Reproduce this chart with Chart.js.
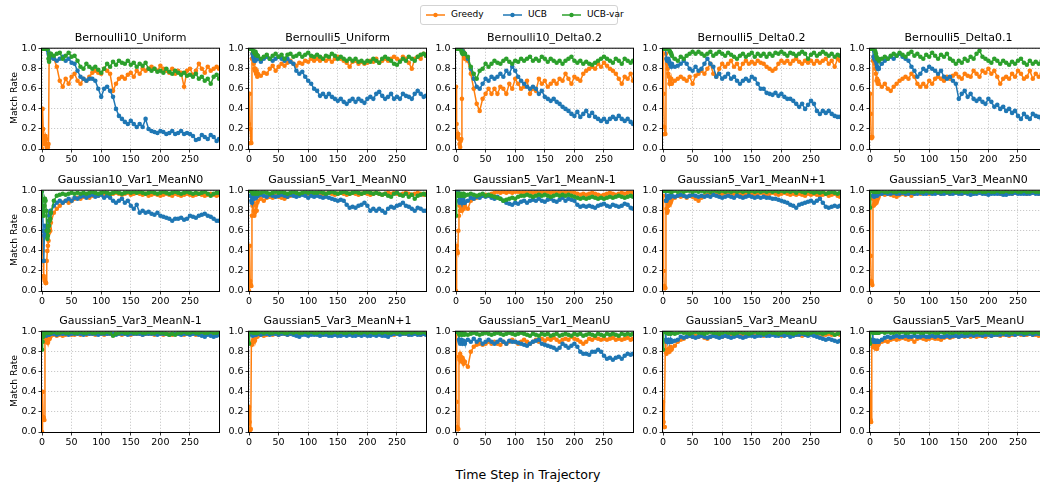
<!DOCTYPE html>
<html><head><meta charset="utf-8">
<script src="https://cdn.jsdelivr.net/npm/chart.js@4.4.0/dist/chart.umd.min.js"></script>
<style>
body{margin:0;width:1040px;height:485px;overflow:hidden;background:#fff;position:relative;font-family:"DejaVu Sans",sans-serif;color:#000;}
canvas{position:absolute;}
.ttl{position:absolute;width:177px;text-align:center;font-size:11px;line-height:13px;white-space:nowrap;color:#000;}
.ylab{position:absolute;width:12px;height:80px;font-size:9.2px;line-height:12px;writing-mode:vertical-rl;transform:rotate(180deg);text-align:center;white-space:nowrap;color:#000;font-weight:400;}
#leg{position:absolute;left:420px;top:5px;width:196px;height:18px;border:1px solid #d3d3d3;border-radius:3px;font-size:9px;line-height:11px;}
#leg span{position:absolute;top:3px;white-space:nowrap;}
#leg svg{position:absolute;top:4px;}
#xlab{position:absolute;left:378px;width:300px;top:467px;text-align:center;font-size:12.6px;line-height:16px;}
</style></head><body>
<div id="leg">
<svg style="left:5px" width="19" height="10"><line x1="0" y1="5" x2="19" y2="5" stroke="#ff7f0e" stroke-width="1.5"/><circle cx="9.5" cy="5" r="2.2" fill="#ff7f0e"/></svg><span style="left:30px">Greedy</span>
<svg style="left:82px" width="19" height="10"><line x1="0" y1="5" x2="19" y2="5" stroke="#1f77b4" stroke-width="1.5"/><circle cx="9.5" cy="5" r="2.2" fill="#1f77b4"/></svg><span style="left:107px">UCB</span>
<svg style="left:141px" width="19" height="10"><line x1="0" y1="5" x2="19" y2="5" stroke="#2ca02c" stroke-width="1.5"/><circle cx="9.5" cy="5" r="2.2" fill="#2ca02c"/></svg><span style="left:166px">UCB-var</span>
</div>
<div id="xlab">Time Step in Trajectory</div>
<script>
const steps=[0,1,2,3,4,5,6,7,8,9,10,11,12,13,14,15,20,25,30,35,40,45,50,55,60,65,70,75,80,85,90,95,100,105,110,115,120,125,130,135,140,145,150,155,160,165,170,175,180,185,190,195,200,205,210,215,220,225,230,235,240,245,250,255,260,265,270,275,280,285,290,295,299];
const xTicks=[0,50,100,150,200,250];
const yTicks=[0,0.2,0.4,0.6,0.8,1.0];
const titles=['Bernoulli10_Uniform','Bernoulli5_Uniform','Bernoulli10_Delta0.2','Bernoulli5_Delta0.2','Bernoulli5_Delta0.1',
'Gaussian10_Var1_MeanN0','Gaussian5_Var1_MeanN0','Gaussian5_Var1_MeanN-1','Gaussian5_Var1_MeanN+1','Gaussian5_Var3_MeanN0',
'Gaussian5_Var3_MeanN-1','Gaussian5_Var3_MeanN+1','Gaussian5_Var1_MeanU','Gaussian5_Var3_MeanU','Gaussian5_Var5_MeanU'];

const greedy1=[0.0,0.4,0.2,0.12,0.05,0.08,0.13,0.1,0.02,0.0,0.02,0.05,0.9,0.95,0.92,
0.93,0.9,0.82,0.68,0.62,0.7,0.65,0.72,0.75,0.68,0.65,0.7,0.68,0.72,0.76,0.78,0.76,0.75,0.8,0.78,0.75,0.58,0.65,0.7,0.72,0.7,0.74,0.76,0.72,0.78,0.75,0.8,0.78,0.8,0.82,0.8,0.78,0.83,0.8,0.78,0.76,0.8,0.75,0.78,0.76,0.62,0.78,0.8,0.74,0.78,0.85,0.8,0.76,0.82,0.78,0.8,0.82,0.8];
const ucb1=[1,1,1,1,1,1,1,1,1,1,0.98,0.95,0.93,0.9,0.92,
0.93,0.9,0.88,0.9,0.92,0.88,0.9,0.86,0.85,0.78,0.72,0.7,0.68,0.7,0.7,0.68,0.6,0.52,0.6,0.62,0.58,0.52,0.4,0.33,0.3,0.27,0.25,0.28,0.25,0.22,0.25,0.22,0.3,0.2,0.18,0.17,0.16,0.18,0.17,0.15,0.16,0.18,0.15,0.16,0.18,0.15,0.16,0.15,0.13,0.09,0.1,0.14,0.12,0.1,0.14,0.12,0.08,0.1];
const ucbvar1=[1,1,1,1,1,1,1,1,1,1,1,0.9,0.87,0.93,0.95,
0.95,0.93,0.95,0.96,0.9,0.93,0.96,0.92,0.93,0.88,0.82,0.8,0.85,0.82,0.8,0.82,0.79,0.76,0.8,0.85,0.82,0.87,0.84,0.88,0.86,0.85,0.88,0.84,0.86,0.82,0.85,0.83,0.86,0.8,0.78,0.8,0.77,0.78,0.76,0.8,0.77,0.75,0.78,0.76,0.74,0.76,0.73,0.74,0.72,0.75,0.7,0.72,0.68,0.7,0.65,0.72,0.74,0.7];

const greedy2=[0.25,0.55,0.2,0.06,0.06,0.9,0.95,0.9,0.85,0.8,0.78,0.8,0.75,0.78,0.72,
0.75,0.73,0.76,0.75,0.8,0.83,0.78,0.82,0.85,0.83,0.86,0.88,0.85,0.83,0.86,0.85,0.88,0.87,0.9,0.88,0.9,0.88,0.9,0.88,0.9,0.87,0.9,0.92,0.9,0.88,0.86,0.82,0.87,0.88,0.85,0.87,0.85,0.86,0.88,0.87,0.9,0.86,0.88,0.9,0.88,0.9,0.92,0.9,0.88,0.92,0.9,0.86,0.8,0.9,0.92,0.9,0.95,0.93];
const ucb2=[1,1,1,1,1,1,0.95,0.92,0.9,0.88,0.9,0.88,0.9,0.92,0.9,
0.9,0.87,0.9,0.92,0.9,0.88,0.9,0.92,0.9,0.88,0.9,0.87,0.85,0.78,0.75,0.77,0.72,0.68,0.65,0.6,0.58,0.53,0.55,0.52,0.55,0.52,0.5,0.48,0.5,0.47,0.45,0.48,0.5,0.47,0.5,0.48,0.46,0.5,0.52,0.5,0.55,0.57,0.53,0.5,0.52,0.55,0.5,0.52,0.5,0.55,0.53,0.52,0.5,0.55,0.58,0.55,0.52,0.53];
const ucbvar2=[1,1,1,1,1,1,1,0.98,0.97,0.96,0.95,0.97,0.95,0.94,0.93,
0.93,0.9,0.92,0.94,0.9,0.93,0.95,0.92,0.94,0.9,0.94,0.95,0.92,0.93,0.95,0.92,0.94,0.96,0.93,0.92,0.94,0.92,0.9,0.93,0.92,0.95,0.93,0.9,0.92,0.9,0.88,0.9,0.88,0.9,0.87,0.88,0.86,0.88,0.87,0.9,0.88,0.86,0.9,0.92,0.9,0.88,0.85,0.84,0.87,0.9,0.88,0.92,0.9,0.88,0.92,0.94,0.95,0.93];

const greedy3=[0.62,0.25,0.15,0.12,0.15,0.1,0.05,0.02,0.08,0.1,0.5,1.0,0.98,0.95,0.92,
0.9,0.88,0.75,0.6,0.45,0.38,0.5,0.55,0.6,0.55,0.6,0.55,0.62,0.6,0.55,0.65,0.6,0.7,0.65,0.6,0.62,0.68,0.55,0.6,0.58,0.7,0.65,0.68,0.62,0.65,0.68,0.65,0.7,0.68,0.75,0.7,0.65,0.72,0.7,0.68,0.75,0.78,0.8,0.82,0.8,0.85,0.82,0.86,0.83,0.8,0.78,0.75,0.7,0.65,0.72,0.7,0.75,0.68];
const ucb3=[1,1,1,1,1,1,1,1,1,1,1,0.98,0.97,0.96,0.95,
0.95,0.9,0.8,0.7,0.62,0.6,0.65,0.7,0.68,0.72,0.7,0.72,0.75,0.72,0.78,0.75,0.82,0.78,0.72,0.68,0.65,0.62,0.6,0.62,0.6,0.55,0.58,0.52,0.5,0.48,0.5,0.47,0.45,0.42,0.4,0.38,0.35,0.33,0.37,0.32,0.35,0.38,0.33,0.36,0.32,0.3,0.28,0.3,0.27,0.3,0.32,0.3,0.33,0.3,0.28,0.3,0.27,0.25];
const ucbvar3=[1,1,1,1,1,1,1,1,1,0.98,0.96,0.95,0.95,0.96,0.95,
0.95,0.92,0.82,0.75,0.7,0.78,0.8,0.85,0.82,0.85,0.88,0.86,0.85,0.88,0.9,0.87,0.85,0.88,0.87,0.9,0.88,0.9,0.92,0.88,0.9,0.88,0.92,0.9,0.87,0.9,0.88,0.86,0.88,0.85,0.88,0.9,0.92,0.88,0.86,0.88,0.85,0.87,0.85,0.84,0.86,0.88,0.9,0.92,0.9,0.88,0.86,0.9,0.88,0.85,0.9,0.88,0.86,0.88];

const greedy4=[1.0,0.55,0.22,0.15,0.15,0.95,0.9,0.85,0.8,0.75,0.72,0.65,0.68,0.65,0.7,
0.65,0.68,0.7,0.72,0.7,0.68,0.72,0.65,0.73,0.75,0.78,0.75,0.8,0.85,0.75,0.72,0.8,0.85,0.82,0.85,0.88,0.82,0.85,0.8,0.85,0.88,0.85,0.87,0.85,0.88,0.86,0.85,0.82,0.8,0.78,0.8,0.85,0.88,0.86,0.88,0.85,0.88,0.9,0.87,0.85,0.88,0.86,0.88,0.85,0.88,0.86,0.88,0.9,0.85,0.88,0.82,0.9,0.88];
const ucb4=[1,1,1,1,1,1,0.9,0.88,0.88,0.9,0.88,0.86,0.85,0.83,0.82,
0.85,0.82,0.83,0.85,0.88,0.85,0.8,0.78,0.82,0.78,0.8,0.85,0.9,0.85,0.82,0.72,0.75,0.7,0.72,0.75,0.7,0.72,0.68,0.65,0.68,0.7,0.68,0.72,0.7,0.65,0.6,0.6,0.56,0.55,0.54,0.56,0.53,0.55,0.52,0.5,0.5,0.48,0.45,0.42,0.45,0.4,0.44,0.48,0.45,0.38,0.35,0.38,0.36,0.38,0.35,0.33,0.32,0.32];
const ucbvar4=[1,1,1,1,1,1,1,1,1,1,1,0.98,0.97,0.96,0.95,
0.93,0.9,0.88,0.92,0.9,0.93,0.95,0.97,0.95,0.97,0.95,0.93,0.95,0.97,0.93,0.95,0.97,0.95,0.93,0.96,0.94,0.92,0.9,0.93,0.95,0.92,0.94,0.96,0.92,0.95,0.93,0.95,0.92,0.95,0.93,0.96,0.95,0.97,0.95,0.93,0.96,0.95,0.93,0.95,0.97,0.95,0.9,0.94,0.96,0.93,0.95,0.97,0.95,0.93,0.95,0.92,0.94,0.93];

const greedy5=[0.55,0.35,0.12,0.11,0.12,0.88,0.92,0.9,0.85,0.8,0.75,0.68,0.7,0.65,0.68,
0.65,0.62,0.65,0.6,0.58,0.62,0.65,0.68,0.7,0.72,0.7,0.75,0.72,0.65,0.62,0.65,0.62,0.68,0.65,0.7,0.72,0.7,0.68,0.72,0.7,0.73,0.75,0.72,0.7,0.75,0.73,0.72,0.78,0.75,0.72,0.78,0.76,0.8,0.75,0.78,0.72,0.65,0.7,0.72,0.7,0.75,0.72,0.78,0.75,0.7,0.72,0.78,0.7,0.75,0.72,0.75,0.72,0.7];
const ucb5=[1,1,1,1,1,1,0.92,0.9,0.9,0.88,0.9,0.85,0.82,0.8,0.8,
0.8,0.85,0.88,0.9,0.92,0.9,0.93,0.95,0.92,0.9,0.88,0.82,0.78,0.72,0.75,0.8,0.78,0.82,0.8,0.78,0.75,0.78,0.72,0.7,0.72,0.68,0.65,0.5,0.55,0.58,0.52,0.55,0.5,0.48,0.5,0.47,0.45,0.5,0.47,0.42,0.44,0.4,0.42,0.38,0.4,0.36,0.38,0.33,0.3,0.35,0.32,0.3,0.35,0.33,0.32,0.3,0.33,0.32];
const ucbvar5=[1,1,1,1,1,1,1,1,1,0.97,0.95,0.92,0.9,0.9,0.9,
0.88,0.9,0.92,0.9,0.93,0.95,0.93,0.96,0.94,0.92,0.95,0.97,0.93,0.95,0.92,0.9,0.94,0.92,0.96,0.93,0.9,0.94,0.92,0.95,0.9,0.88,0.85,0.88,0.86,0.9,0.88,0.92,0.9,0.95,0.98,0.92,0.9,0.88,0.86,0.9,0.88,0.85,0.88,0.86,0.84,0.87,0.85,0.88,0.9,0.86,0.84,0.88,0.85,0.87,0.85,0.88,0.9,0.92];

const greedy6=[0.55,0.4,0.3,0.15,0.12,0.1,0.08,0.08,0.3,0.4,0.45,0.5,0.58,0.62,0.6,
0.68,0.78,0.82,0.85,0.88,0.9,0.88,0.9,0.92,0.93,0.92,0.94,0.95,0.93,0.95,0.96,0.95,0.97,0.96,0.97,0.96,0.97,0.98,0.97,0.96,0.97,0.98,0.96,0.97,0.98,0.97,0.96,0.97,0.95,0.96,0.97,0.96,0.95,0.96,0.97,0.96,0.95,0.97,0.96,0.95,0.96,0.97,0.96,0.95,0.96,0.97,0.96,0.95,0.96,0.97,0.96,0.95,0.96];
const ucb6=[1,0.85,0.6,0.3,0.55,0.65,0.6,0.55,0.6,0.62,0.65,0.7,0.75,0.78,0.8,
0.78,0.85,0.88,0.9,0.88,0.9,0.92,0.9,0.93,0.92,0.94,0.95,0.93,0.95,0.96,0.94,0.95,0.96,0.93,0.95,0.93,0.9,0.88,0.9,0.92,0.88,0.9,0.85,0.82,0.86,0.78,0.8,0.78,0.79,0.77,0.76,0.78,0.75,0.74,0.73,0.72,0.7,0.72,0.72,0.73,0.71,0.72,0.75,0.74,0.73,0.75,0.76,0.77,0.75,0.74,0.72,0.7,0.7];
const ucbvar6=[1,0.9,0.78,0.75,0.85,0.92,0.9,0.8,0.6,0.52,0.55,0.6,0.65,0.7,0.72,
0.78,0.9,0.95,0.96,0.97,0.96,0.97,0.98,0.97,0.98,0.97,0.98,0.97,0.98,0.99,0.98,0.97,0.98,0.99,0.98,0.97,0.98,0.99,0.98,0.97,0.98,0.99,0.98,0.99,0.98,0.99,0.98,0.97,0.98,0.99,0.98,0.97,0.98,0.99,0.98,0.97,0.98,0.99,0.98,0.97,0.98,0.99,0.98,0.97,0.98,0.97,0.98,0.99,0.97,0.95,0.97,0.98,0.98];

const greedy7=[0.0,0.45,0.1,0.06,0.05,0.75,0.85,0.88,0.8,0.75,0.78,0.8,0.85,0.8,0.88,
0.9,0.92,0.9,0.93,0.94,0.93,0.95,0.94,0.93,0.92,0.94,0.95,0.96,0.95,0.96,0.97,0.96,0.97,0.96,0.97,0.98,0.97,0.96,0.97,0.98,0.97,0.96,0.97,0.98,0.97,0.96,0.97,0.98,0.97,0.96,0.97,0.98,0.97,0.96,0.97,0.98,0.97,0.96,0.97,0.98,0.97,0.98,0.97,0.96,0.97,0.98,0.97,0.96,0.97,0.98,0.97,0.96,0.97];
const ucb7=[1,1,1,0.95,0.9,0.88,0.92,0.95,0.94,0.92,0.95,0.94,0.93,0.95,0.96,
0.95,0.96,0.95,0.94,0.96,0.95,0.94,0.95,0.96,0.95,0.94,0.96,0.95,0.94,0.95,0.96,0.95,0.93,0.95,0.94,0.95,0.94,0.93,0.94,0.93,0.92,0.91,0.9,0.91,0.9,0.86,0.83,0.84,0.83,0.85,0.86,0.88,0.85,0.8,0.82,0.8,0.82,0.8,0.78,0.82,0.84,0.83,0.85,0.86,0.88,0.85,0.84,0.82,0.8,0.83,0.82,0.8,0.8];
const ucbvar7=[1,1,1,1,1,1,0.98,0.97,0.98,0.99,0.98,0.97,0.98,0.99,0.98,
0.97,0.98,0.99,0.98,0.97,0.98,0.99,0.98,0.99,0.98,0.97,0.98,0.99,0.98,0.97,0.98,0.99,0.98,0.99,0.98,0.98,0.99,0.98,0.97,0.98,0.99,0.98,0.97,0.98,0.99,0.98,0.97,0.98,0.99,0.98,0.97,0.98,0.99,0.98,0.97,0.98,0.97,0.96,0.97,0.95,0.94,0.97,0.98,0.96,0.95,0.97,0.94,0.96,0.92,0.95,0.96,0.97,0.96];

const greedy8=[0.0,0.45,0.4,0.38,0.6,0.75,0.85,0.8,0.88,0.82,0.8,0.85,0.83,0.82,0.86,
0.85,0.82,0.9,0.92,0.93,0.94,0.95,0.96,0.95,0.97,0.98,0.99,0.98,0.99,0.98,0.99,0.98,0.99,0.99,0.98,0.99,0.98,0.99,0.98,0.99,0.98,0.99,0.98,0.99,0.98,0.99,0.98,0.99,0.98,0.99,0.98,0.99,0.98,0.97,0.96,0.97,0.96,0.97,0.98,0.97,0.96,0.95,0.96,0.97,0.98,0.97,0.96,0.97,0.98,0.97,0.98,0.99,0.98];
const ucb8=[1,1,1,1,1,0.9,0.88,0.9,0.92,0.9,0.88,0.9,0.92,0.9,0.88,
0.88,0.9,0.93,0.92,0.94,0.93,0.95,0.94,0.95,0.93,0.92,0.94,0.92,0.9,0.88,0.87,0.86,0.88,0.87,0.89,0.9,0.88,0.9,0.91,0.9,0.92,0.9,0.89,0.91,0.92,0.9,0.89,0.91,0.93,0.9,0.92,0.91,0.9,0.86,0.84,0.85,0.84,0.85,0.84,0.83,0.85,0.86,0.87,0.85,0.84,0.86,0.85,0.84,0.85,0.87,0.86,0.83,0.82];
const ucbvar8=[0.75,0.95,0.97,0.96,0.95,0.97,0.96,0.95,0.96,0.97,0.96,0.95,0.96,0.97,0.96,
0.95,0.96,0.97,0.96,0.95,0.96,0.97,0.95,0.96,0.95,0.94,0.93,0.92,0.9,0.91,0.92,0.93,0.92,0.94,0.95,0.95,0.96,0.95,0.94,0.95,0.96,0.95,0.96,0.95,0.94,0.95,0.96,0.95,0.96,0.95,0.96,0.95,0.94,0.93,0.92,0.93,0.92,0.93,0.94,0.93,0.92,0.93,0.92,0.93,0.94,0.93,0.94,0.95,0.94,0.93,0.94,0.95,0.94];

const greedy9=[0.95,0.2,0.05,0.03,0.03,0.9,0.82,0.78,0.8,0.85,0.88,0.86,0.9,0.88,0.9,
0.92,0.93,0.95,0.94,0.95,0.93,0.95,0.94,0.92,0.9,0.93,0.95,0.96,0.97,0.96,0.97,0.96,0.97,0.98,0.97,0.96,0.97,0.98,0.97,0.96,0.97,0.98,0.97,0.96,0.97,0.98,0.97,0.96,0.97,0.98,0.97,0.96,0.97,0.98,0.97,0.96,0.97,0.96,0.97,0.96,0.95,0.97,0.96,0.97,0.96,0.95,0.96,0.97,0.95,0.96,0.97,0.95,0.94];
const ucb9=[1,1,1,1,1,0.9,0.9,0.92,0.93,0.95,0.94,0.93,0.95,0.94,0.95,
0.95,0.94,0.95,0.96,0.95,0.94,0.95,0.96,0.95,0.94,0.95,0.94,0.95,0.94,0.96,0.95,0.94,0.93,0.94,0.95,0.94,0.93,0.95,0.94,0.93,0.94,0.95,0.94,0.93,0.94,0.93,0.94,0.93,0.93,0.92,0.92,0.91,0.9,0.89,0.88,0.86,0.85,0.83,0.86,0.87,0.88,0.89,0.9,0.88,0.9,0.92,0.88,0.84,0.83,0.84,0.85,0.84,0.85];
const ucbvar9=[1,1,1,1,1,1,1,1,1,1,1,1,1,0.99,1,
0.99,1,0.99,1,0.99,1,1,0.99,1,0.99,1,0.99,1,0.99,1,1,0.99,1,0.99,1,0.99,1,0.99,1,0.99,1,0.99,1,0.99,1,0.99,1,0.99,1,0.99,1,0.99,1,0.99,1,0.99,1,0.98,1,0.99,0.98,1,0.99,0.98,0.99,0.98,0.99,0.97,0.98,0.99,0.98,0.97,0.98];

const greedy10=[1.0,0.35,0.1,0.08,0.06,0.92,0.85,0.86,0.88,0.87,0.9,0.88,0.9,0.92,0.93,
0.95,0.97,0.96,0.97,0.96,0.95,0.94,0.96,0.97,0.96,0.97,0.95,0.97,0.98,0.97,0.98,0.98,0.97,0.98,0.98,0.98,0.97,0.98,0.98,0.97,0.98,0.98,0.98,0.97,0.98,0.98,0.98,0.97,0.98,0.98,0.98,0.97,0.98,0.98,0.98,0.98,0.97,0.98,0.98,0.98,0.97,0.98,0.98,0.98,0.98,0.97,0.98,0.98,0.98,0.97,0.98,0.98,0.98];
const ucb10=[1,1,1,1,1,0.95,0.95,0.94,0.95,0.96,0.95,0.96,0.95,0.96,0.97,
0.97,0.97,0.98,0.97,0.97,0.98,0.97,0.97,0.98,0.97,0.97,0.98,0.97,0.97,0.98,0.97,0.97,0.98,0.97,0.97,0.98,0.97,0.97,0.98,0.97,0.97,0.98,0.97,0.97,0.98,0.97,0.96,0.97,0.97,0.98,0.97,0.97,0.96,0.97,0.97,0.97,0.97,0.96,0.96,0.97,0.97,0.98,0.97,0.97,0.97,0.97,0.97,0.98,0.97,0.97,0.97,0.96,0.97];
const ucbvar10=[0.83,1,1,1,1,1,0.99,1,0.99,1,0.99,1,0.99,1,0.99,
0.99,1,0.99,0.99,1,0.99,0.99,1,0.99,0.99,1,0.99,0.99,1,0.99,0.99,1,0.99,0.99,1,0.99,0.99,1,0.99,0.99,1,0.99,0.99,1,0.99,0.99,1,0.99,0.99,1,0.99,0.99,1,0.99,0.99,1,0.99,0.99,1,0.99,0.99,1,0.99,0.99,1,0.99,0.99,1,0.99,0.99,1,0.99,0.99];

const greedy11=[0.0,0.4,0.15,0.14,0.12,0.9,0.93,0.92,0.9,0.91,0.89,0.92,0.94,0.93,0.95,
0.96,0.97,0.96,0.97,0.96,0.97,0.98,0.97,0.97,0.98,0.97,0.98,0.97,0.98,0.98,0.97,0.98,0.98,0.97,0.98,0.98,0.97,0.98,0.98,0.97,0.98,0.98,0.97,0.98,0.98,0.98,0.97,0.98,0.98,0.98,0.97,0.98,0.98,0.97,0.98,0.98,0.97,0.98,0.98,0.98,0.97,0.98,0.98,0.98,0.97,0.98,0.98,0.97,0.98,0.98,0.97,0.98,0.98];
const ucb11=[1,1,1,1,1,0.97,0.97,0.96,0.97,0.97,0.97,0.98,0.97,0.98,0.98,
0.98,0.98,0.97,0.98,0.98,0.98,0.97,0.98,0.98,0.98,0.98,0.97,0.98,0.98,0.98,0.98,0.97,0.98,0.98,0.98,0.98,0.98,0.97,0.98,0.98,0.98,0.97,0.98,0.98,0.98,0.98,0.97,0.98,0.98,0.98,0.98,0.97,0.98,0.98,0.98,0.97,0.98,0.98,0.98,0.97,0.98,0.98,0.97,0.98,0.98,0.97,0.96,0.95,0.97,0.96,0.95,0.96,0.97];
const ucbvar11=[0.82,0.9,0.95,0.97,0.99,1,0.99,1,0.99,1,0.99,1,0.99,1,0.99,
0.99,1,0.99,0.99,1,0.99,0.99,1,0.99,0.99,1,0.99,0.99,1,0.99,0.99,1,0.99,0.99,1,0.99,0.96,0.98,0.99,1,0.99,0.99,1,0.99,0.99,1,0.99,0.99,1,0.99,0.99,1,0.99,0.99,0.98,0.97,0.98,0.97,0.99,0.99,1,0.99,0.99,1,0.99,0.99,1,0.99,0.99,1,0.99,0.99,1];

const greedy12=[0.25,0.1,0.02,0.03,0.88,0.87,0.9,0.92,0.9,0.93,0.91,0.94,0.95,0.96,0.95,
0.96,0.97,0.96,0.97,0.98,0.97,0.98,0.97,0.98,0.98,0.97,0.98,0.98,0.97,0.98,0.98,0.98,0.97,0.98,0.98,0.98,0.98,0.97,0.98,0.98,0.98,0.97,0.98,0.98,0.98,0.97,0.98,0.98,0.98,0.97,0.98,0.98,0.98,0.97,0.98,0.98,0.98,0.97,0.98,0.98,0.98,0.97,0.98,0.98,0.98,0.98,0.97,0.98,0.98,0.98,0.97,0.98,0.98];
const ucb12=[1,1,1,1,1,0.97,0.96,0.97,0.97,0.98,0.97,0.98,0.97,0.98,0.98,
0.98,0.97,0.98,0.98,0.97,0.98,0.98,0.97,0.98,0.98,0.97,0.98,0.97,0.96,0.95,0.97,0.97,0.96,0.97,0.97,0.97,0.96,0.97,0.97,0.96,0.96,0.97,0.96,0.96,0.97,0.96,0.97,0.96,0.96,0.97,0.96,0.97,0.96,0.96,0.97,0.96,0.97,0.96,0.96,0.95,0.97,0.98,0.98,0.97,0.98,0.98,0.97,0.97,0.98,0.97,0.97,0.98,0.97];
const ucbvar12=[0.88,1,1,1,1,1,1,0.99,1,0.99,1,0.99,1,0.99,1,
0.99,1,0.99,1,0.99,0.99,1,0.99,1,0.99,0.99,1,0.99,1,0.99,0.99,1,0.99,1,0.99,0.99,1,0.99,1,0.99,0.99,1,0.99,1,0.99,0.99,1,0.99,1,0.99,0.99,1,0.99,1,0.99,0.99,1,0.99,1,0.99,0.99,1,0.99,1,0.99,0.99,1,0.99,1,0.99,0.99,1,0.99];

const greedy13=[1.0,0.3,0.05,0.03,0.03,0.75,0.72,0.78,0.75,0.72,0.7,0.74,0.72,0.68,0.7,
0.7,0.65,0.8,0.85,0.87,0.88,0.87,0.88,0.9,0.88,0.9,0.88,0.87,0.9,0.88,0.9,0.92,0.9,0.88,0.9,0.92,0.9,0.88,0.9,0.92,0.9,0.93,0.91,0.93,0.92,0.94,0.92,0.9,0.92,0.93,0.92,0.95,0.93,0.92,0.9,0.88,0.9,0.93,0.92,0.94,0.93,0.92,0.93,0.92,0.93,0.94,0.92,0.93,0.92,0.93,0.94,0.92,0.93];
const ucb13=[1,1,1,1,1,0.92,0.9,0.88,0.9,0.92,0.9,0.88,0.9,0.91,0.9,
0.88,0.92,0.9,0.93,0.9,0.92,0.88,0.9,0.92,0.9,0.88,0.9,0.92,0.9,0.88,0.91,0.9,0.9,0.89,0.88,0.87,0.86,0.88,0.9,0.91,0.92,0.88,0.87,0.86,0.85,0.84,0.82,0.84,0.88,0.86,0.84,0.86,0.88,0.85,0.8,0.78,0.78,0.77,0.8,0.8,0.82,0.8,0.76,0.73,0.74,0.72,0.74,0.75,0.73,0.76,0.78,0.77,0.78];
const ucbvar13=[1,1,1,1,1,0.98,0.97,0.98,0.99,0.98,0.97,0.98,0.99,0.98,0.97,
0.98,0.97,0.98,0.99,0.98,0.97,0.98,0.99,0.98,0.97,0.98,0.99,0.98,0.97,0.98,0.99,0.98,0.97,0.98,0.99,0.98,0.97,0.96,0.98,0.97,0.96,0.98,0.97,0.98,0.96,0.97,0.98,0.96,0.97,0.98,0.97,0.96,0.98,0.97,0.98,0.96,0.97,0.98,0.97,0.96,0.98,0.97,0.96,0.98,0.97,0.98,0.97,0.96,0.98,0.97,0.98,0.97,0.98];

const greedy14=[0.3,0.1,0.05,0.05,0.9,0.8,0.78,0.8,0.82,0.8,0.82,0.8,0.83,0.85,0.82,
0.83,0.86,0.9,0.92,0.93,0.95,0.96,0.95,0.96,0.95,0.96,0.94,0.93,0.95,0.96,0.97,0.96,0.95,0.96,0.97,0.96,0.97,0.96,0.97,0.97,0.96,0.97,0.97,0.96,0.97,0.97,0.96,0.97,0.97,0.98,0.97,0.97,0.96,0.97,0.97,0.97,0.98,0.97,0.97,0.96,0.97,0.97,0.98,0.97,0.97,0.98,0.97,0.97,0.98,0.97,0.97,0.98,0.97];
const ucb14=[1,1,1,1,1,0.92,0.9,0.91,0.9,0.92,0.9,0.91,0.9,0.92,0.9,
0.9,0.91,0.92,0.95,0.94,0.95,0.96,0.95,0.94,0.95,0.96,0.95,0.94,0.95,0.96,0.95,0.94,0.95,0.96,0.95,0.94,0.95,0.96,0.95,0.94,0.95,0.96,0.96,0.95,0.96,0.96,0.97,0.96,0.96,0.97,0.96,0.96,0.97,0.96,0.97,0.95,0.96,0.97,0.97,0.98,0.97,0.96,0.97,0.96,0.95,0.94,0.93,0.92,0.93,0.92,0.91,0.9,0.91];
const ucbvar14=[0.82,1,1,1,1,1,0.99,1,0.99,0.98,0.99,1,0.99,0.98,0.99,
0.99,0.98,0.99,1,0.99,0.99,0.98,0.99,1,0.99,0.99,0.98,0.99,1,0.99,0.99,0.98,0.99,1,0.99,0.99,0.98,0.99,1,0.99,0.99,0.98,0.99,1,0.99,0.99,0.98,0.99,1,0.99,0.99,0.98,0.99,1,0.99,0.99,0.98,0.99,1,0.99,0.99,0.98,0.99,1,0.99,0.99,0.98,0.99,1,0.99,0.97,0.98,0.99];

const greedy15=[0.4,0.12,0.1,0.92,0.88,0.85,0.86,0.85,0.84,0.86,0.85,0.83,0.83,0.86,0.87,
0.88,0.9,0.91,0.9,0.92,0.93,0.92,0.93,0.94,0.93,0.92,0.93,0.9,0.93,0.94,0.93,0.92,0.93,0.94,0.93,0.93,0.92,0.94,0.95,0.94,0.95,0.96,0.95,0.96,0.95,0.96,0.95,0.96,0.95,0.96,0.96,0.95,0.97,0.96,0.97,0.97,0.96,0.97,0.97,0.96,0.97,0.97,0.98,0.97,0.97,0.97,0.98,0.97,0.97,0.96,0.96,0.97,0.96];
const ucb15=[1,1,1,1,1,0.92,0.9,0.91,0.9,0.9,0.91,0.9,0.9,0.91,0.9,
0.9,0.92,0.94,0.95,0.94,0.95,0.96,0.95,0.95,0.96,0.95,0.95,0.96,0.95,0.95,0.96,0.95,0.95,0.96,0.95,0.96,0.95,0.95,0.96,0.95,0.96,0.96,0.95,0.96,0.96,0.96,0.97,0.96,0.97,0.97,0.96,0.97,0.97,0.96,0.97,0.97,0.97,0.98,0.97,0.97,0.98,0.97,0.98,0.98,0.97,0.98,0.98,0.97,0.98,0.98,0.97,0.98,0.98];
const ucbvar15=[0.88,1,1,1,1,0.99,1,0.99,1,0.99,1,0.99,0.99,1,0.99,
0.99,1,0.99,1,0.99,0.99,1,0.99,1,0.99,0.99,1,0.99,1,0.99,0.99,1,0.99,1,0.99,0.99,1,0.99,1,0.99,0.99,1,0.99,1,0.99,0.99,1,0.99,1,0.99,0.99,1,0.99,1,0.99,0.99,1,0.99,1,0.99,0.99,1,0.99,1,0.99,0.99,1,0.99,1,0.99,0.99,1,0.99];

const greedyAll=[greedy1,greedy2,greedy3,greedy4,greedy5,greedy6,greedy7,greedy8,greedy9,greedy10,greedy11,greedy12,greedy13,greedy14,greedy15];
const ucbAll=[ucb1,ucb2,ucb3,ucb4,ucb5,ucb6,ucb7,ucb8,ucb9,ucb10,ucb11,ucb12,ucb13,ucb14,ucb15];
const ucbvarAll=[ucbvar1,ucbvar2,ucbvar3,ucbvar4,ucbvar5,ucbvar6,ucbvar7,ucbvar8,ucbvar9,ucbvar10,ucbvar11,ucbvar12,ucbvar13,ucbvar14,ucbvar15];

Chart.defaults.font.family='"DejaVu Sans", sans-serif';
const colLeft=[42,249,456,663,870], rowTop=[47,189,330], PW=177, PH=102;
const ML=40, MT=6, MR=8, MB=20;

const frame={id:'frame',afterDatasetsDraw(ch){const a=ch.chartArea,c=ch.ctx;c.save();c.setLineDash([]);c.strokeStyle='#000';c.lineWidth=1;c.strokeRect(a.left-0.5,a.top-0.5,a.right-a.left+1,a.bottom-a.top+1);c.restore();}};

function ds(label,arr,color,order){
  return {label,data:steps.map((x,k)=>({x:x,y:arr[k]})),borderColor:color,backgroundColor:color,
    pointBackgroundColor:color,pointBorderWidth:0,pointRadius:2.3,borderWidth:1.5,order:order,clip:0,tension:0};
}
const gridCommon={color:'rgba(176,176,176,0.85)',lineWidth:0.8,drawTicks:true,tickLength:3.5,tickColor:'#000',tickBorderDash:[],tickWidth:0.8};
const borderCommon={display:false,dash:[1.2,1.8]};
const tickFont={family:'"DejaVu Sans", sans-serif',size:9.5};

titles.forEach((t,i)=>{
  const r=Math.floor(i/5), c=i%5;
  const cv=document.createElement('canvas');
  cv.width=PW+ML+MR; cv.height=PH+MT+MB;
  cv.style.left=(colLeft[c]-ML)+'px'; cv.style.top=(rowTop[r]-MT)+'px';
  document.body.appendChild(cv);
  const td=document.createElement('div'); td.className='ttl'; td.textContent=t;
  td.style.left=colLeft[c]+'px'; td.style.top=(rowTop[r]-16)+'px'; document.body.appendChild(td);
  if(c===0){const yl=document.createElement('div');yl.className='ylab';yl.textContent='Match Rate';
    yl.style.left='7.5px'; yl.style.top=(rowTop[r]+PH/2-40)+'px'; document.body.appendChild(yl);}
  new Chart(cv,{type:'line',
    data:{datasets:[ds('Greedy',greedyAll[i],'#ff7f0e',3),ds('UCB',ucbAll[i],'#1f77b4',2),ds('UCB-var',ucbvarAll[i],'#2ca02c',1)]},
    options:{responsive:false,animation:false,devicePixelRatio:1,
      layout:{padding:{left:0,top:MT,right:MR,bottom:0}},
      plugins:{legend:{display:false},tooltip:{enabled:false},title:{display:false}},
      scales:{
        x:{type:'linear',min:0,max:299,afterFit:s=>{s.height=MB;},
           afterBuildTicks:s=>{s.ticks=xTicks.map(v=>({value:v}));},
           grid:gridCommon,border:borderCommon,
           ticks:{color:'#000',font:tickFont,padding:1,maxRotation:0,autoSkip:false,callback:v=>String(v)}},
        y:{type:'linear',min:0,max:1,afterFit:s=>{s.width=ML;},
           afterBuildTicks:s=>{s.ticks=yTicks.map(v=>({value:v}));},
           grid:gridCommon,border:borderCommon,
           ticks:{color:'#000',font:tickFont,padding:2,autoSkip:false,callback:v=>Number(v).toFixed(1)}}
      }},
    plugins:[frame]});
});
</script>
</body></html>
